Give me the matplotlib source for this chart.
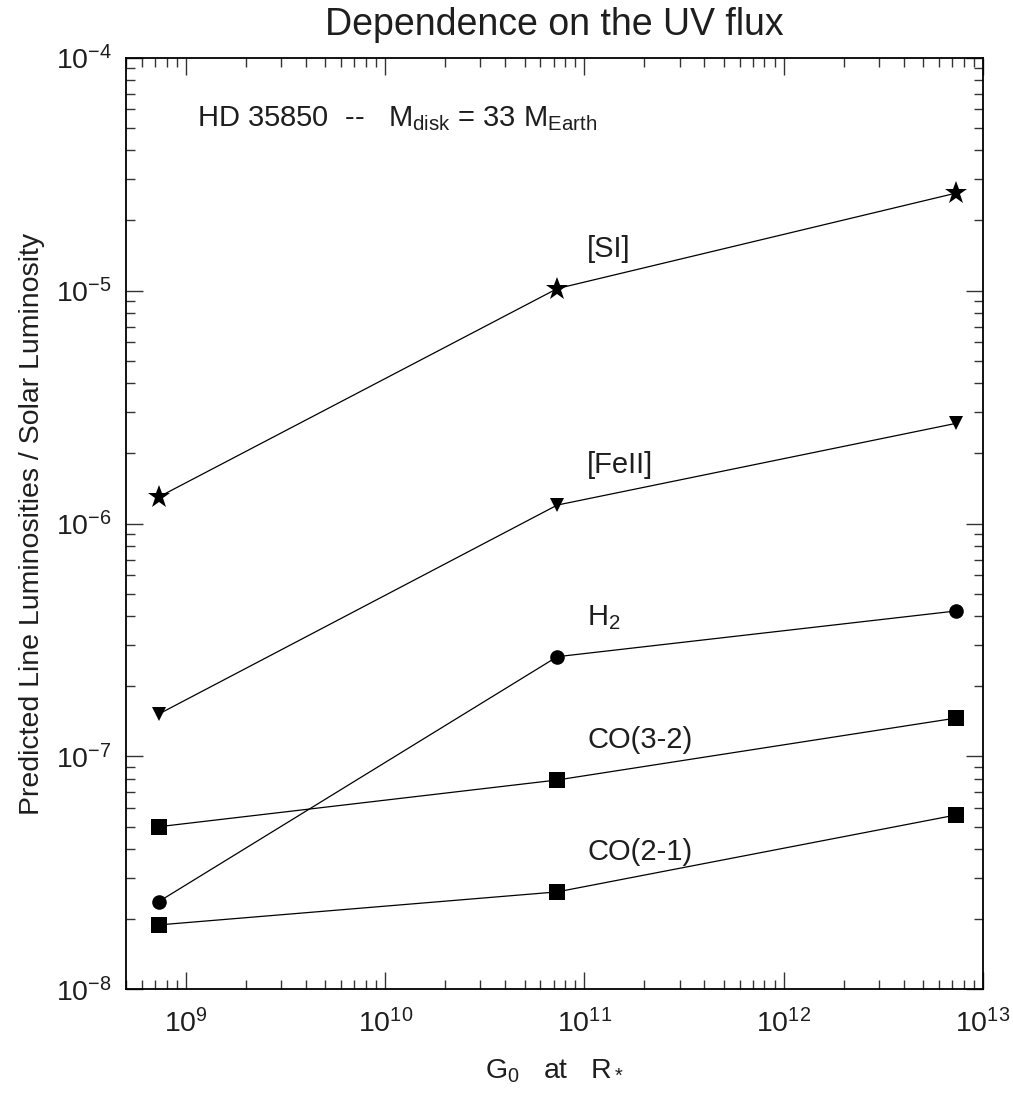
import numpy as np
import matplotlib
matplotlib.use("Agg")
import matplotlib.pyplot as plt
from matplotlib.ticker import LogLocator, FuncFormatter, NullFormatter

# G0 at R* for the three models
g0 = [7.3e8, 7.3e10, 7.3e12]

# predicted line luminosities (L / L_sun)
lum_si = [1.30e-6, 1.02e-5, 2.62e-5]
lum_feii = [1.52e-7, 1.20e-6, 2.69e-6]
lum_h2 = [2.38e-8, 2.68e-7, 4.21e-7]
lum_co32 = [4.99e-8, 7.92e-8, 1.46e-7]
lum_co21 = [1.89e-8, 2.62e-8, 5.60e-8]

line_names = ["[SI]", "[FeII]", "H$_2$", "CO(3-2)", "CO(2-1)"]

plt.rcParams['font.family'] = ['Liberation Sans', 'DejaVu Sans']
plt.rcParams['mathtext.fontset'] = 'custom'
plt.rcParams['mathtext.rm'] = 'Liberation Sans'
plt.rcParams['mathtext.it'] = 'Liberation Sans'
plt.rcParams['mathtext.bf'] = 'Liberation Sans'
plt.rcParams['mathtext.default'] = 'rm'

txt_color = '#1e1e1e'

fig = plt.figure(figsize=(10.13, 10.95), dpi=100)
ax = fig.add_axes([126 / 1013, 1 - 989.3 / 1095, (983 - 126) / 1013, (989.3 - 57.7) / 1095])

series = [
    (lum_si, '*', 17),
    (lum_feii, 'v', 10.5),
    (lum_h2, 'o', 10.5),
    (lum_co32, 's', 11.5),
    (lum_co21, 's', 11.5),
]
for (vals, mk, ms), name in zip(series, line_names):
    ax.plot(g0, vals, color='black', lw=0.9, marker=mk, ms=ms,
            markeredgewidth=0, markerfacecolor='black')
    # label sits above the middle model point
    ax.text(1.03e11, vals[1] * 1.37, name, fontsize=21, color=txt_color,
            ha='left', va='baseline')

ax.set_xscale('log')
ax.set_yscale('log')
ax.set_xlim(5e8, 1e13)
ax.set_ylim(1e-8, 1e-4)

def pow_fmt(v, pos):
    e = int(round(np.log10(v)))
    return r"$10^{%d}$" % e

for axis in (ax.xaxis, ax.yaxis):
    axis.set_major_locator(LogLocator(base=10, numticks=20))
    axis.set_minor_locator(LogLocator(base=10, subs=np.arange(2, 10), numticks=20))
    axis.set_major_formatter(FuncFormatter(pow_fmt))
    axis.set_minor_formatter(NullFormatter())

ax.tick_params(which='both', direction='in', top=True, right=True, width=1.0,
               color='#333333')
ax.tick_params(which='major', length=12.5, labelsize=20.5, labelcolor=txt_color)
ax.tick_params(which='minor', length=6.5)
ax.tick_params(axis='x', which='major', pad=14)
ax.tick_params(axis='y', which='major', pad=10)
for sp in ax.spines.values():
    sp.set_linewidth(1.3)

ax.set_title("Dependence on the UV flux", fontsize=27, color=txt_color, pad=16)
ax.set_xlabel(r"G$_0$   at   R$_*$", fontsize=20.5, color=txt_color, labelpad=14)
ax.set_ylabel("Predicted Line Luminosities / Solar Luminosity", fontsize=20.5,
              color=txt_color, labelpad=8)

ax.text(0.0825, 0.9267, r"HD 35850  --   M$_{\rm disk}$ = 33 M$_{\rm Earth}$",
        transform=ax.transAxes, fontsize=21, color=txt_color,
        ha='left', va='baseline')

fig.savefig("out.png", dpi=100)
